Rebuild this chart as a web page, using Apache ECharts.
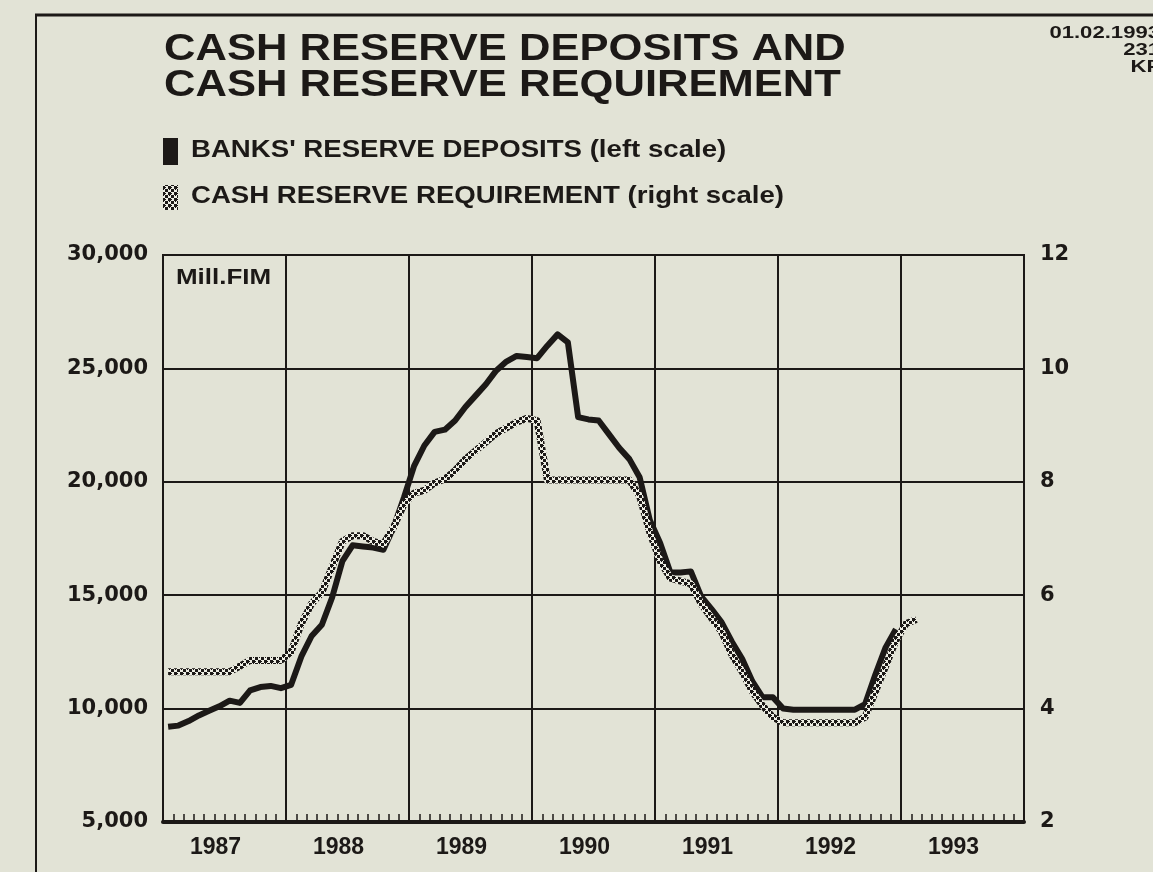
<!DOCTYPE html>
<html>
<head>
<meta charset="utf-8">
<title>Cash reserve deposits and cash reserve requirement</title>
<script src="https://cdn.jsdelivr.net/npm/echarts@6/dist/echarts.min.js"></script>
<style>
html,body{margin:0;padding:0;background:#e2e3d6;}
#main{width:1153px;height:872px;}
</style>
</head>
<body>
<div id="main"></div>
<script>
// x axis: months from Jan 1987 (month 0), one label per year
var years = ['1987', '1988', '1989', '1990', '1991', '1992', '1993'];
// banks' reserve deposits, mill. FIM, monthly Jan 1987 - Dec 1992 (left scale)
var deposits = [
    9200, 9250, 9450, 9700, 9900, 10100, 10350, 10250, 10800, 10950, 11000, 10900,
    11050, 12300, 13200, 13700, 14900, 16500, 17200, 17150, 17100, 17000, 18000, 19300,
    20700, 21600, 22200, 22300, 22700, 23300, 23800, 24300, 24900, 25300, 25550, 25500,
    25450, 26000, 26500, 26150, 22850, 22750, 22700, 22100, 21500, 21000, 20200, 18300,
    17300, 16000, 16000, 16050, 14950, 14400, 13800, 12950, 12200, 11200, 10500, 10500,
    10000, 9950, 9950, 9950, 9950, 9950, 9950, 9950, 10200, 11500, 12700, 13500
];
// cash reserve requirement, per cent, monthly Jan 1987 - Feb 1993 (right scale)
var requirement = [
    4.65, 4.65, 4.65, 4.65, 4.65, 4.65, 4.65, 4.75, 4.85, 4.85, 4.85, 4.85,
    5.0, 5.5, 5.85, 6.05, 6.5, 6.95, 7.05, 7.05, 6.95, 6.9, 7.2, 7.6,
    7.8, 7.85, 7.98, 8.05, 8.2, 8.4, 8.55, 8.7, 8.85, 8.95, 9.05, 9.12,
    9.08, 8.03, 8.03, 8.03, 8.03, 8.03, 8.03, 8.03, 8.03, 8.03, 7.75, 7.1,
    6.6, 6.3, 6.25, 6.2, 5.85, 5.6, 5.35, 4.95, 4.65, 4.3, 4.05, 3.85,
    3.75, 3.75, 3.75, 3.75, 3.75, 3.75, 3.75, 3.75, 3.85, 4.3, 4.75, 5.2,
    5.5, 5.57
];

var ink = '#1c1917';
var paper = '#e2e3d6';
var boldFont = '"Liberation Sans", Arial, sans-serif';
var numFont = '"DejaVu Sans", sans-serif';

//checkered pattern for the requirement line
function checker(){
    var c = document.createElement('canvas');
    c.width = 6; c.height = 6;
    var ctx = c.getContext('2d');
    ctx.fillStyle = '#eeeee4';
    ctx.fillRect(0, 0, 6, 6);
    ctx.fillStyle = ink;
    ctx.fillRect(0, 0, 3, 3);
    ctx.fillRect(3, 3, 3, 3);
    //round the dots a bit
    ctx.fillRect(2, 1, 2, 1);
    ctx.fillRect(1, 2, 1, 2);
    return {image: c, repeat: 'repeat'};
}
var pattern = checker();

//points sit in the middle of each month
function toPoints(arr){
    var out = [];
    for (var i = 0; i < arr.length; i++) out.push([i + 0.5, arr[i]]);
    return out;
}

//stretched bold text, like the printed original
function label(txt, x, y, size, align, sx){
    return {
        type: 'group', x: x, y: y, scaleX: sx || 1.21,
        children: [{
            type: 'text', x: 0, y: 0,
            style: {text: txt, font: 'bold ' + size + 'px ' + boldFont, fill: ink, align: align || 'left', verticalAlign: 'middle'}
        }]
    };
}

var chart = echarts.init(document.getElementById('main'));
var option = {
    backgroundColor: paper,
    animation: false,
    grid: {left: 163, right: 129, top: 255, bottom: 50, show: true, borderColor: ink, borderWidth: 2, backgroundColor: 'transparent'},
    xAxis: [{
        type: 'value', min: 0, max: 84, interval: 12,
        axisLine: {show: true, lineStyle: {color: ink, width: 4}},
        axisTick: {show: true, inside: true, length: 8, lineStyle: {color: ink, width: 1.5}},
        minorTick: {show: true, splitNumber: 12, length: 8, lineStyle: {color: ink, width: 1.5}},
        splitLine: {show: true, lineStyle: {color: ink, width: 2}},
        axisLabel: {show: false}
    }, {
        type: 'category', data: years, position: 'bottom', boundaryGap: true,
        axisLine: {show: false}, axisTick: {show: false}, splitLine: {show: false},
        axisLabel: {color: ink, fontFamily: boldFont, fontWeight: 'bold', fontSize: 23, margin: 14,
            padding: [0, 18, 0, 0]}
    }],
    yAxis: [{
        type: 'value', min: 5000, max: 30000, interval: 5000,
        axisLine: {show: true, lineStyle: {color: ink, width: 2}},
        axisTick: {show: false},
        splitLine: {show: true, lineStyle: {color: ink, width: 2}},
        axisLabel: {color: ink, fontFamily: numFont, fontWeight: 'bold', fontSize: 21, margin: 15,
            formatter: function(v){ return v.toLocaleString('en-US'); }}
    }, {
        type: 'value', min: 2, max: 12, interval: 2, position: 'right',
        axisLine: {show: true, lineStyle: {color: ink, width: 2}},
        axisTick: {show: false},
        splitLine: {show: false},
        axisLabel: {color: ink, fontFamily: numFont, fontWeight: 'bold', fontSize: 21, margin: 16}
    }],
    series: [{
        name: "BANKS' RESERVE DEPOSITS (left scale)",
        type: 'line', xAxisIndex: 0, yAxisIndex: 0,
        data: toPoints(deposits), symbol: 'none',
        lineStyle: {color: ink, width: 6, join: 'round'}
    }, {
        name: 'CASH RESERVE REQUIREMENT (right scale)',
        type: 'line', xAxisIndex: 0, yAxisIndex: 1,
        data: toPoints(requirement), symbol: 'none',
        lineStyle: {color: pattern, width: 7, join: 'round'}
    }],
    graphic: [
        {type: 'line', shape: {x1: 35, y1: 15, x2: 1153, y2: 15}, style: {stroke: ink, lineWidth: 3}},
        {type: 'line', shape: {x1: 36, y1: 15, x2: 36, y2: 872}, style: {stroke: ink, lineWidth: 2}},
        label('CASH RESERVE DEPOSITS AND', 164, 50, 36),
        label('CASH RESERVE REQUIREMENT', 164, 86, 36),
        {type: 'rect', shape: {x: 163, y: 138, width: 15, height: 27}, style: {fill: ink}},
        label("BANKS' RESERVE DEPOSITS (left scale)", 191, 150, 24, 'left', 1.15),
        {type: 'rect', shape: {x: 163, y: 185, width: 15, height: 25}, style: {fill: pattern}},
        label('CASH RESERVE REQUIREMENT (right scale)', 191, 196, 24, 'left', 1.15),
        label('Mill.FIM', 176, 278, 22, 'left', 1.18),
        label('01.02.1993', 1160, 33, 17, 'right', 1.3),
        label('231', 1160, 50, 17, 'right', 1.3),
        label('KF', 1160, 67, 17, 'right', 1.3)
    ]
};
chart.setOption(option);
</script>
</body>
</html>
